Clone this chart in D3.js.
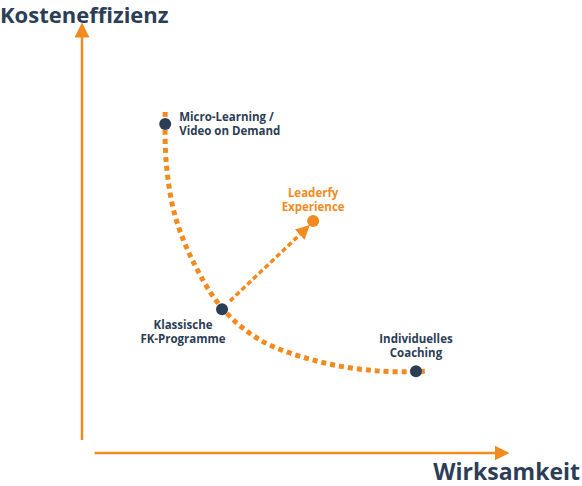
<!DOCTYPE html>
<html><head><meta charset="utf-8">
<script src="https://cdn.jsdelivr.net/npm/d3@7"></script>
<style>body{margin:0;background:#fff}text{font-family:"Open Sans",sans-serif;font-weight:700}</style>
</head><body><svg width="582" height="486"></svg>
<script>
var curve = [[19.9,81],[20.1,69.1],[22.2,55.6],[27,43.2],[33.5,32.6],[42.6,24.7],[56.9,19.3],[71.3,17],[82.8,17]];
var points = [
  {name:["Micro-Learning /","Video on Demand"], x:19.9, y:78, anchor:"start", dx:14, dy:-3},
  {name:["Klassische","FK-Programme"], x:33.5, y:32.3, anchor:"middle", dx:-39, dy:20},
  {name:["Individuelles","Coaching"], x:79.9, y:17, anchor:"middle", dx:0, dy:-28}
];
var leaderfy = {name:["Leaderfy","Experience"], x:55.3, y:54.1};
var arrowLine = [[35.4,34.3],[53.3,51.9]];
var dark = "#2c3e55", orange = "#f28a1e";

var svg = d3.select("svg");
var x = d3.scaleLinear().domain([0,100]).range([82,500]);
var y = d3.scaleLinear().domain([0,100]).range([440,35]);

var defs = svg.append("defs");
defs.append("marker").attr("id","ah").attr("viewBox","0 0 10 10").attr("refX",5).attr("refY",5)
  .attr("markerWidth",4).attr("markerHeight",4).attr("orient","auto")
  .append("path").attr("d","M0,0L10,5L0,10Z").attr("fill",orange);
defs.append("marker").attr("id","ax").attr("viewBox","0 0 10 10").attr("refX",5).attr("refY",5)
  .attr("markerWidth",6).attr("markerHeight",6).attr("orient","auto")
  .append("path").attr("d","M0,0L10,5L0,10Z").attr("fill",orange);

// axes
svg.append("line").attr("x1",x(0)).attr("y1",y(0)).attr("x2",x(0)).attr("y2",y(100)-5)
  .attr("stroke",orange).attr("stroke-width",2.5).attr("marker-end","url(#ax)");
svg.append("line").attr("x1",x(3)).attr("y1",y(-3.2)).attr("x2",x(100)+2).attr("y2",y(-3.2))
  .attr("stroke",orange).attr("stroke-width",2.5).attr("marker-end","url(#ax)");

svg.append("text").attr("x",0).attr("y",23).attr("fill",dark).attr("font-size",22).text("Kosteneffizienz");
svg.append("text").attr("x",580).attr("y",480).attr("text-anchor","end").attr("fill",dark).attr("font-size",23).text("Wirksamkeit");

var line = d3.line().x(function(d){return x(d[0]);}).y(function(d){return y(d[1]);}).curve(d3.curveCatmullRom);
svg.append("path").attr("d",line(curve)).attr("fill","none").attr("stroke",orange)
  .attr("stroke-width",5).attr("stroke-dasharray","5,4");

svg.append("path").attr("d",d3.line().x(function(d){return x(d[0]);}).y(function(d){return y(d[1]);})(arrowLine))
  .attr("fill","none").attr("stroke",orange).attr("stroke-width",3.5).attr("stroke-dasharray","5,3")
  .attr("marker-end","url(#ah)");

points.forEach(function(p){
  svg.append("circle").attr("cx",x(p.x)).attr("cy",y(p.y)).attr("r",6).attr("fill",dark);
  var t = svg.append("text").attr("text-anchor",p.anchor).attr("fill",dark).attr("font-size",11.5);
  p.name.forEach(function(s,i){
    t.append("tspan").attr("x",x(p.x)+p.dx).attr("y",y(p.y)+p.dy+i*14).text(s);
  });
});
svg.append("circle").attr("cx",x(leaderfy.x)).attr("cy",y(leaderfy.y)).attr("r",6).attr("fill",orange);
var lt = svg.append("text").attr("text-anchor","middle").attr("fill",orange).attr("font-size",11.5);
leaderfy.name.forEach(function(s,i){
  lt.append("tspan").attr("x",x(leaderfy.x)).attr("y",y(leaderfy.y)-24+i*14).text(s);
});
</script></body></html>
